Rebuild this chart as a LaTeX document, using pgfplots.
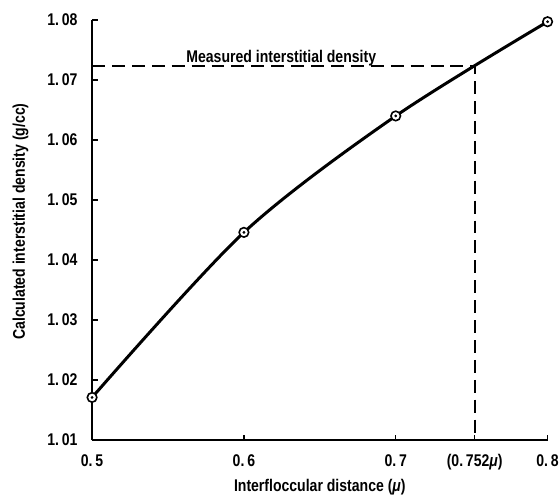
\documentclass[border=0pt]{standalone}
\usepackage{pgfplots}
\pgfplotsset{compat=1.18}
\usepackage{fontspec}
\setmainfont{Liberation Sans}[FakeStretch=0.83]
\newcommand\chartfont{\fontsize{17}{21}\selectfont\bfseries}
\begin{document}
\begin{tikzpicture}
\path[use as bounding box] (-92.5pt,-57pt) rectangle (470pt,442pt);
\begin{axis}[
  at={(0pt,0pt)}, anchor=south west,
  width=457.5pt, height=422pt, scale only axis,
  xmin=0.5, xmax=0.8, ymin=1.01, ymax=1.08,
  axis x line*=bottom, axis y line*=left,
  axis line style={line width=1.8pt, black},
  tick align=inside, major tick length=5.5pt,
  major tick style={line width=1.4pt, black},
  minor tick num=0,
  xtick={0.5,0.6,0.7,0.8},
  xticklabels={0.\,5,0.\,6,0.\,7,0.\,8},
  extra x ticks={0.752},
  extra x tick labels={(0.\,752\textit{μ})},
  ytick={1.01,1.02,1.03,1.04,1.05,1.06,1.07,1.08},
  yticklabels={1.\,01,1.\,02,1.\,03,1.\,04,1.\,05,1.\,06,1.\,07,1.\,08},
  xticklabel style={font=\chartfont, anchor=base, yshift=-27pt},
  yticklabel style={font=\chartfont, anchor=east, inner sep=0pt, xshift=-14.5pt},
  xlabel={Interfloccular distance (\textit{μ})},
  ylabel={Calculated interstitial density (g/cc)},
  xlabel style={font=\chartfont, at={(axis description cs:0.5,-0.123)}, anchor=base},
  ylabel style={font=\chartfont, at={(axis description cs:-0.1475,0.52)}, anchor=base},
  clip=false,
]
\addplot[black, line width=2pt, dash pattern=on 13pt off 7pt]
  coordinates {(0.5,1.0724) (0.752,1.0724) (0.752,1.01)};
\addplot[black, line width=3pt, smooth]
  coordinates {(0.5,1.0171) (0.6,1.0446) (0.7,1.0640) (0.8,1.0797)};
\addplot[only marks, mark=*, mark size=4.8pt, mark options={fill=white, draw=black, line width=1.6pt}]
  coordinates {(0.5,1.0171) (0.6,1.0446) (0.7,1.0640) (0.8,1.0797)};
\addplot[only marks, mark=*, mark size=1.2pt, black]
  coordinates {(0.5,1.0171) (0.6,1.0446) (0.7,1.0640) (0.8,1.0797)};
\node[anchor=base, font=\chartfont, inner sep=0pt, yshift=3pt] at (axis cs:0.6246,1.0724) {Measured interstitial density};
\end{axis}
\end{tikzpicture}
\end{document}
